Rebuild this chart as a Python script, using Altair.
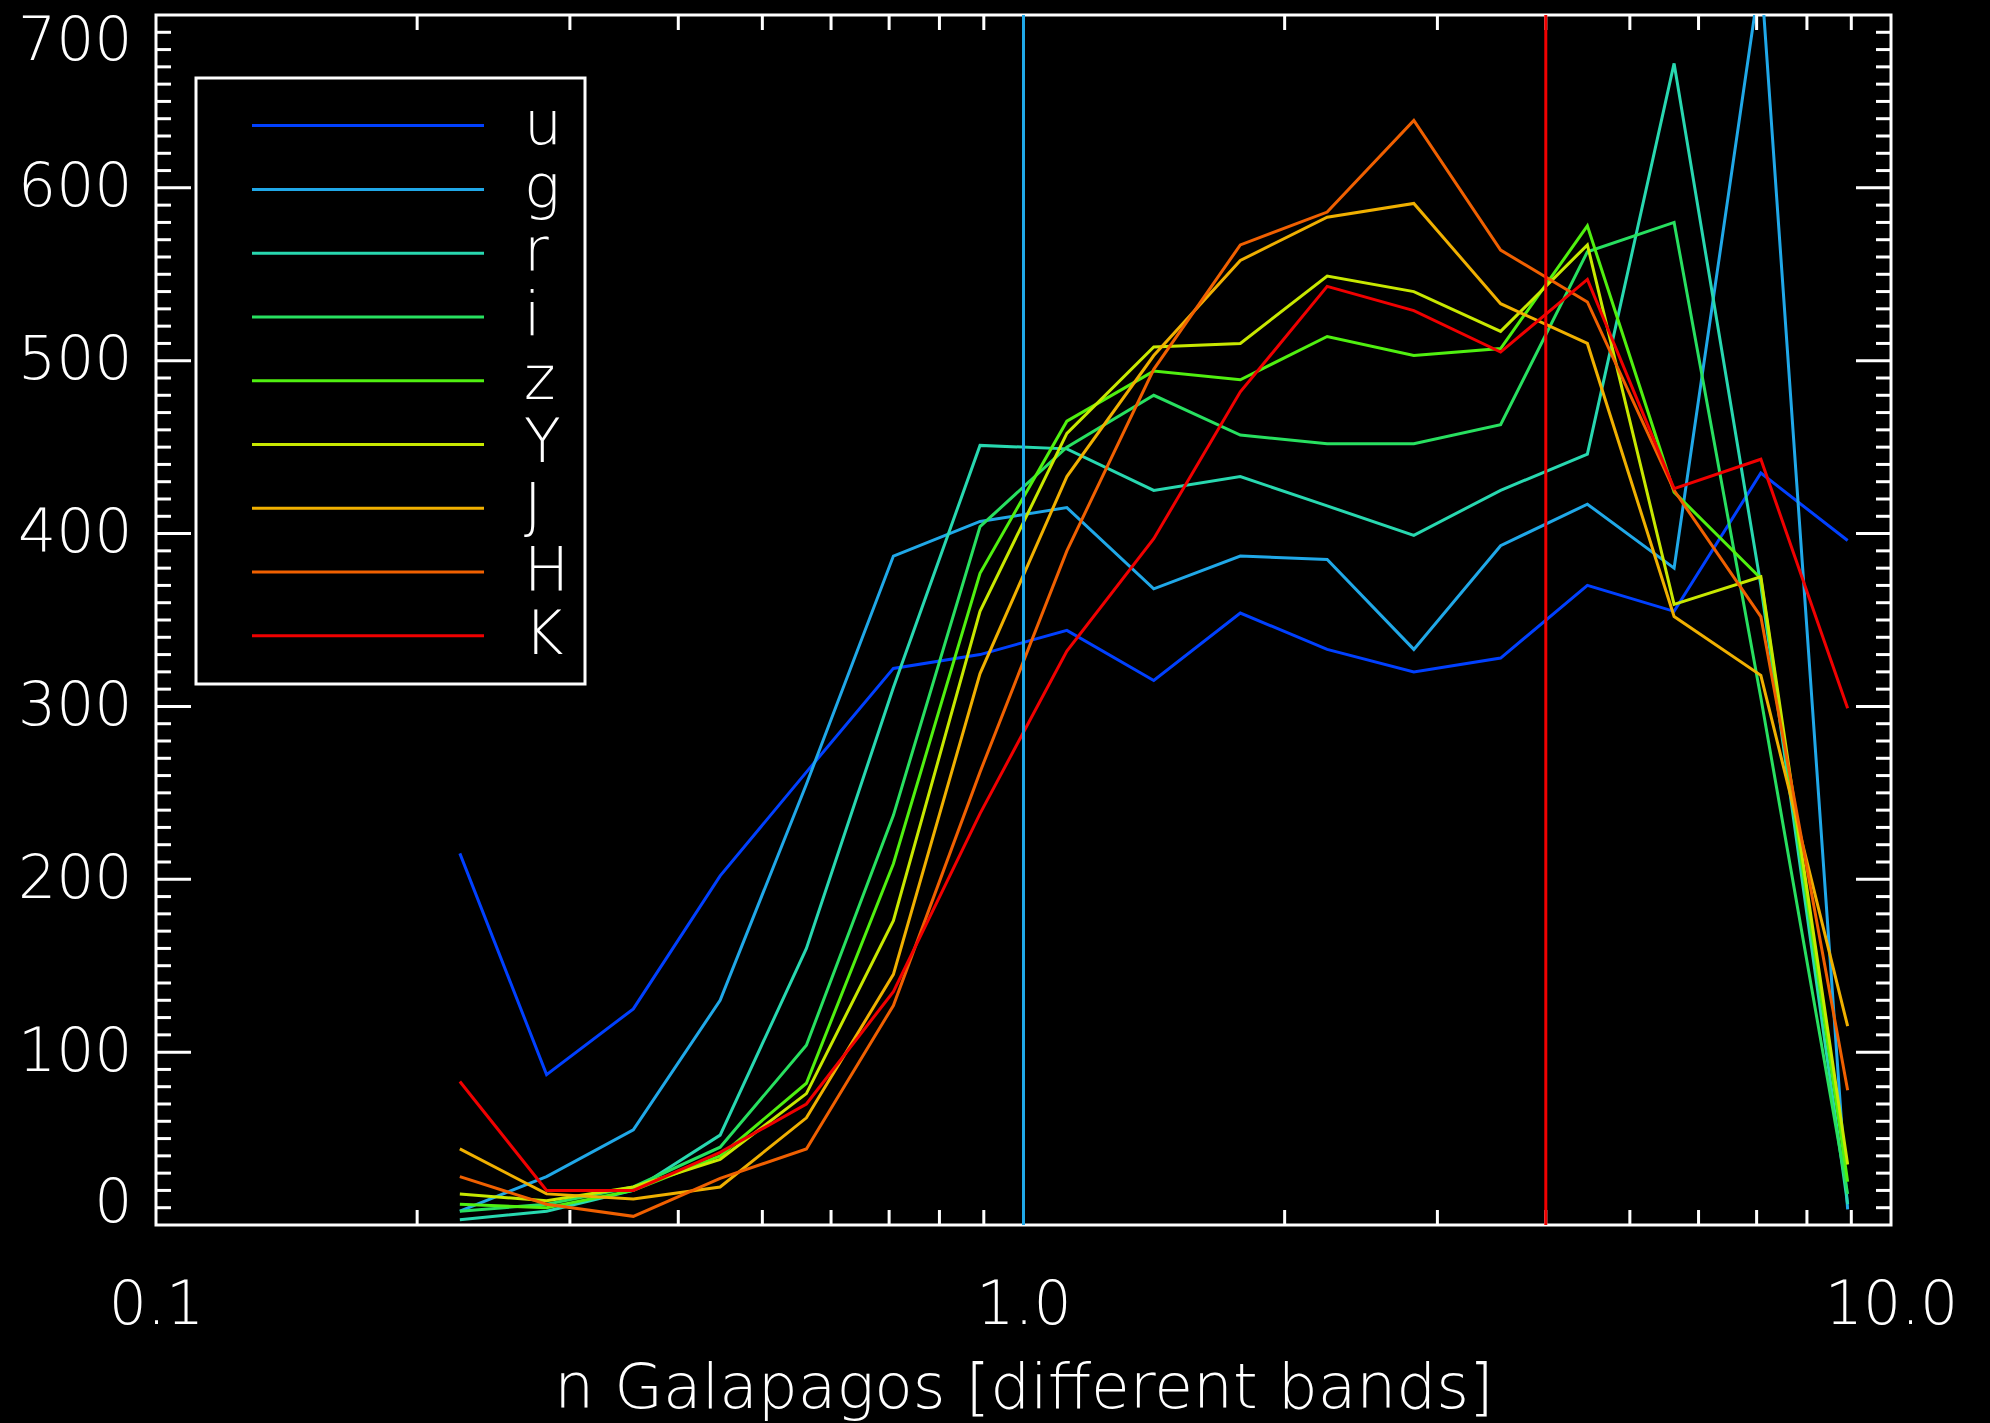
import altair as alt
import pandas as pd

# ---------------- data ----------------
bands = ["u", "g", "r", "i", "z", "Y", "J", "H", "K"]
band_colors = ["#0040ff", "#20a8e8", "#28d8b0", "#28e060", "#50f010",
               "#c8e800", "#f0b000", "#f06000", "#f00000"]

n_values = [0.224, 0.282, 0.355, 0.447, 0.562, 0.708, 0.891, 1.122, 1.413,
            1.778, 2.239, 2.818, 3.548, 4.467, 5.623, 7.079, 8.913]

u_counts = [215, 87, 125, 202, 262, 322, 330, 344, 315, 354, 333, 320, 328, 370, 355, 435, 396]
g_counts = [8, 28, 55, 130, 255, 387, 407, 415, 368, 387, 385, 333, 393, 417, 380, 725, 9]
r_counts = [3, 8, 20, 52, 160, 311, 451, 449, 425, 433, 416, 399, 425, 446, 672, 370, 12]
i_counts = [8, 12, 22, 45, 104, 237, 404, 450, 480, 457, 452, 452, 463, 563, 580, 305, 18]
z_counts = [12, 10, 20, 40, 82, 209, 377, 465, 494, 489, 514, 503, 507, 578, 424, 374, 25]
Y_counts = [18, 14, 22, 38, 76, 176, 355, 458, 508, 510, 549, 540, 517, 567, 359, 375, 35]
J_counts = [44, 18, 15, 22, 62, 145, 319, 433, 503, 558, 583, 591, 533, 510, 352, 318, 115]
H_counts = [28, 12, 5, 27, 44, 127, 262, 390, 495, 567, 586, 639, 564, 534, 425, 352, 78]
K_counts = [83, 20, 20, 42, 70, 135, 238, 332, 397, 482, 543, 529, 505, 547, 426, 443, 299]

marker_lines = [1.0, 4.0]
marker_colors = ["#20a8e8", "#f00000"]

x_tick_labels = [0.1, 1.0, 10.0]
y_tick_labels = [0, 100, 200, 300, 400, 500, 600, 700]
x_minor_ticks = [0.2, 0.3, 0.4, 0.5, 0.6, 0.7, 0.8, 0.9, 2, 3, 4, 5, 6, 7, 8, 9]
x_major_ticks = [1.0]
y_major_ticks = [100, 200, 300, 400, 500, 600]
y_minor_ticks = [v for v in range(10, 700, 10) if v % 100 != 0]

# ---------------- tables ----------------
series = [u_counts, g_counts, r_counts, i_counts, z_counts,
          Y_counts, J_counts, H_counts, K_counts]
rows = []
for b, vals in zip(bands, series):
    for n, c in zip(n_values, vals):
        rows.append({"band": b, "n": n, "count": c})
df = pd.DataFrame(rows)

W, H = 1735, 1210
FONT = "DejaVu Sans"
MINOR, MAJOR = 15, 35

xscale = alt.Scale(type="log", domain=[0.1, 10], nice=False)
yscale = alt.Scale(domain=[0, 700], nice=False, zero=False)
cscale = alt.Scale(domain=bands, range=band_colors)

x_axis = alt.Axis(values=x_tick_labels, format=".1f",
                  title="n Galapagos [different bands]",
                  labelFlush=False, labelPadding=98,
                  labelBaseline="alphabetic", labelOverlap=False,
                  titleY=182, titleBaseline="alphabetic",
                  titleFontSize=63)

lines = alt.Chart(df).mark_line(clip=True, strokeWidth=3).encode(
    x=alt.X("n:Q", scale=xscale, axis=x_axis),
    y=alt.Y("count:Q", scale=yscale,
            axis=alt.Axis(values=y_tick_labels, format="d", title=None,
                          labelFlush=True, labelFlushOffset=9,
                          labelOffset={"condition": {"test": "datum.value == 700", "value": 6},
                                       "value": 0},
                          labelPadding=24, labelOverlap=False)),
    color=alt.Color("band:N", scale=cscale, legend=None),
)

layers = [lines]

# inward ticks on all four sides
xminor_df = pd.DataFrame({"n": x_minor_ticks})
xmajor_df = pd.DataFrame({"n": x_major_ticks})
yminor_df = pd.DataFrame({"v": y_minor_ticks})
ymajor_df = pd.DataFrame({"v": y_major_ticks})

for d, ln in [(xminor_df, MINOR), (xmajor_df, MAJOR)]:
    for y0, y1 in [(H, H - ln), (0, ln)]:
        layers.append(
            alt.Chart(d).mark_rule(color="white", strokeWidth=3).encode(
                x=alt.X("n:Q", scale=xscale, axis=x_axis),
                y=alt.value(y0), y2=alt.value(y1)))

for d, ln in [(yminor_df, MINOR), (ymajor_df, MAJOR)]:
    for x0, x1 in [(0, ln), (W, W - ln)]:
        layers.append(
            alt.Chart(d).mark_rule(color="white", strokeWidth=3).encode(
                y=alt.Y("v:Q", scale=yscale, axis=None),
                x=alt.value(x0), x2=alt.value(x1)))

# vertical marker lines
for n, c in zip(marker_lines, marker_colors):
    layers.append(
        alt.Chart(pd.DataFrame({"n": [n]})).mark_rule(color=c, strokeWidth=3).encode(
            x=alt.X("n:Q", scale=xscale, axis=x_axis)))

# legend (drawn by hand)
ldf = pd.DataFrame({"band": bands})
lscale = alt.Scale(type="point", domain=bands, range=[110.6, 620.8], padding=0)

legend_box = alt.Chart(pd.DataFrame({"k": [0]})).mark_rect(
    fillOpacity=0, stroke="white", strokeWidth=3).encode(
    x=alt.value(40), x2=alt.value(429), y=alt.value(63), y2=alt.value(669))

legend_lines = alt.Chart(ldf).mark_rule(strokeWidth=3).encode(
    y=alt.Y("band:N", scale=lscale, axis=None),
    x=alt.value(96), x2=alt.value(328),
    color=alt.Color("band:N", scale=cscale, legend=None))

legend_text = alt.Chart(ldf).mark_text(
    align="left", baseline="alphabetic", dy=18, fontSize=60,
    color="white", font=FONT, fontWeight=200).encode(
    y=alt.Y("band:N", scale=lscale, axis=None),
    x=alt.value(368),
    text="band:N")

layers += [legend_box, legend_lines, legend_text]

chart = alt.layer(*layers).resolve_scale(y="independent").properties(
    width=W, height=H,
    padding={"left": 156, "top": 15, "right": 99, "bottom": 198},
    autosize=alt.AutoSizeParams(type="none"),
).configure(
    background="black", font=FONT
).configure_view(
    stroke="white", strokeWidth=3
).configure_axis(
    labelColor="white", titleColor="white", labelFont=FONT, titleFont=FONT,
    labelFontSize=60, labelFontWeight=200, titleFontWeight=200,
    grid=False, domain=False, ticks=False, tickSize=0,
)

chart.save("out.html", embed_options={"renderer": "svg", "actions": False})
